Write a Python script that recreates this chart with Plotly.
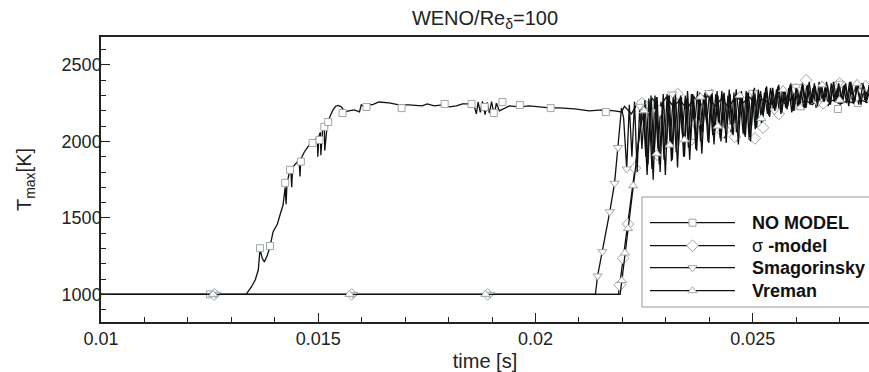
import plotly.graph_objects as go

# ---------------- data ----------------
x_ticks = [0.01, 0.015, 0.02, 0.025]
x_tick_labels = ["0.01", "0.015", "0.02", "0.025"]
y_ticks = [1000, 1500, 2000, 2500]
y_tick_labels = ["1000", "1500", "2000", "2500"]

series_names = ["NO MODEL", "σ -model", "Smagorinsky", "Vreman"]

# NO MODEL line
nm_t = [0.01000, 0.01334, 0.01346, 0.01355, 0.01362, 0.01366, 0.01371, 0.01376, 0.01383, 0.01389,
        0.01396, 0.01406, 0.01412, 0.01419, 0.01424, 0.01426, 0.01428, 0.01433, 0.01437, 0.01439,
        0.01441, 0.01450, 0.01456, 0.01458, 0.01460, 0.01468, 0.01479, 0.01491, 0.01498, 0.01499,
        0.01502, 0.01505, 0.01506, 0.01510, 0.01514, 0.01515, 0.01521, 0.01528, 0.01534, 0.01540,
        0.01546, 0.01553, 0.01562, 0.01570, 0.01583, 0.01595, 0.01599, 0.01606, 0.01617, 0.01624,
        0.01640, 0.01663, 0.01686, 0.01709, 0.01739, 0.01751, 0.01767, 0.01786, 0.01802, 0.01818,
        0.01832, 0.01848, 0.01857, 0.01864, 0.01868, 0.01873, 0.01878, 0.01884, 0.01889, 0.01894,
        0.01899, 0.01905, 0.01910, 0.01917, 0.01929, 0.01940, 0.01963, 0.01986, 0.02009, 0.02032,
        0.02055, 0.02090, 0.02124, 0.02154, 0.02182, 0.02198,
        0.02205, 0.02221, 0.02237, 0.02253, 0.02269, 0.02285, 0.02301, 0.02317, 0.02333, 0.02349,
        0.02365, 0.02381, 0.02397, 0.02413, 0.02429, 0.02445, 0.02461, 0.02477, 0.02493, 0.02509,
        0.02525, 0.02541, 0.02557, 0.02573, 0.02589, 0.02605, 0.02621, 0.02637, 0.02653, 0.02669,
        0.02685, 0.02701, 0.02717, 0.02733, 0.02749, 0.02765]
nm_T = [1000, 1000, 1048, 1094, 1159, 1295, 1238, 1211, 1257, 1312,
        1408, 1460, 1519, 1584, 1700, 1590, 1720, 1790, 1815, 1700,
        1830, 1860, 1880, 1770, 1885, 1931, 1975, 2005, 2030, 1900,
        2040, 2060, 1910, 2075, 2090, 1940, 2120, 2170, 2206, 2230,
        2236, 2226, 2193, 2200, 2206, 2193, 2239, 2226, 2245, 2239,
        2258, 2252, 2239, 2239, 2232, 2245, 2232, 2239, 2226, 2232,
        2245, 2245, 2252, 2180, 2258, 2190, 2262, 2175, 2255, 2185,
        2260, 2170, 2250, 2200, 2219, 2232, 2226, 2232, 2226, 2219,
        2219, 2213, 2200, 2206, 2200, 2193,
        2230, 2180, 2260, 2210, 2280, 2220, 2290, 2230, 2270, 2210,
        2290, 2240, 2300, 2230, 2280, 2220, 2300, 2250, 2290, 2230,
        2280, 2240, 2300, 2250, 2280, 2230, 2270, 2240, 2280, 2250,
        2270, 2245, 2265, 2250, 2270, 2255]

# sampling times of the turbulent part (one list per LES model)
sm_noisy_t = [0.02245, 0.02252, 0.02259, 0.02266, 0.02273, 0.02280, 0.02287, 0.02294, 0.02301, 0.02308,
              0.02315, 0.02322, 0.02329, 0.02336, 0.02343, 0.02350, 0.02357, 0.02364, 0.02371, 0.02378,
              0.02385, 0.02392, 0.02399, 0.02406, 0.02413, 0.02420, 0.02427, 0.02434, 0.02441, 0.02448,
              0.02455, 0.02462, 0.02469, 0.02476, 0.02483, 0.02490, 0.02497, 0.02504, 0.02511, 0.02518,
              0.02525, 0.02532, 0.02539, 0.02546, 0.02553, 0.02560, 0.02567, 0.02574, 0.02581, 0.02588,
              0.02595, 0.02602, 0.02609, 0.02616, 0.02623, 0.02630, 0.02637, 0.02644, 0.02651, 0.02658,
              0.02665, 0.02672, 0.02679, 0.02686, 0.02693, 0.02700, 0.02707, 0.02714, 0.02721, 0.02728,
              0.02735, 0.02742, 0.02749, 0.02756, 0.02763, 0.02770]
sg_noisy_t = [0.02247, 0.02254, 0.02261, 0.02268, 0.02275, 0.02282, 0.02289, 0.02296, 0.02303, 0.02310,
              0.02317, 0.02324, 0.02331, 0.02338, 0.02345, 0.02352, 0.02359, 0.02366, 0.02373, 0.02380,
              0.02387, 0.02394, 0.02401, 0.02408, 0.02415, 0.02422, 0.02429, 0.02436, 0.02443, 0.02450,
              0.02457, 0.02464, 0.02471, 0.02478, 0.02485, 0.02492, 0.02499, 0.02506, 0.02513, 0.02520,
              0.02527, 0.02534, 0.02541, 0.02548, 0.02555, 0.02562, 0.02569, 0.02576, 0.02583, 0.02590,
              0.02597, 0.02604, 0.02611, 0.02618, 0.02625, 0.02632, 0.02639, 0.02646, 0.02653, 0.02660,
              0.02667, 0.02674, 0.02681, 0.02688, 0.02695, 0.02702, 0.02709, 0.02716, 0.02723, 0.02730,
              0.02737, 0.02744, 0.02751, 0.02758, 0.02765, 0.02772]
vr_noisy_t = [0.02250, 0.02257, 0.02264, 0.02271, 0.02278, 0.02285, 0.02292, 0.02299, 0.02306, 0.02313,
              0.02320, 0.02327, 0.02334, 0.02341, 0.02348, 0.02355, 0.02362, 0.02369, 0.02376, 0.02383,
              0.02390, 0.02397, 0.02404, 0.02411, 0.02418, 0.02425, 0.02432, 0.02439, 0.02446, 0.02453,
              0.02460, 0.02467, 0.02474, 0.02481, 0.02488, 0.02495, 0.02502, 0.02509, 0.02516, 0.02523,
              0.02530, 0.02537, 0.02544, 0.02551, 0.02558, 0.02565, 0.02572, 0.02579, 0.02586, 0.02593,
              0.02600, 0.02607, 0.02614, 0.02621, 0.02628, 0.02635, 0.02642, 0.02649, 0.02656, 0.02663,
              0.02670, 0.02677, 0.02684, 0.02691, 0.02698, 0.02705, 0.02712, 0.02719, 0.02726, 0.02733,
              0.02740, 0.02747, 0.02754, 0.02761, 0.02768, 0.02775]

# sigma-model
sg_t_rise = [0.01000, 0.02191, 0.02198, 0.02205, 0.02212, 0.02219, 0.02226, 0.02233, 0.02240]
sg_T_rise = [1000, 1000, 1150, 1300, 1450, 1600, 1760, 1910, 2060]
sg_T_noisy = [2250, 1900, 2280, 1820, 2300, 1950, 2260, 1880, 2310, 1990,
              2290, 1930, 2320, 2050, 2300, 1960, 2310, 2080, 2330, 2000,
              2300, 2120, 2320, 2040, 2310, 2100, 2330, 2020, 2300, 2060,
              2320, 2000, 2290, 2050, 2330, 2010, 2310, 2080, 2340, 2120,
              2320, 2180, 2350, 2200, 2340, 2170, 2360, 2220, 2350, 2190,
              2370, 2230, 2340, 2210, 2380, 2240, 2350, 2220, 2390, 2250,
              2360, 2230, 2380, 2260, 2350, 2240, 2370, 2250, 2390, 2260,
              2360, 2240, 2380, 2270, 2350, 2300]

# Smagorinsky
sm_t_rise = [0.01000, 0.02138, 0.02143, 0.02154, 0.02162, 0.02171, 0.02182, 0.02190, 0.02198,
             0.02203, 0.02210, 0.02216, 0.02222, 0.02228, 0.02234, 0.02240]
sm_T_rise = [1000, 1000, 1120, 1279, 1400, 1540, 1726, 1960, 2219,
             2150, 1820, 2240, 1900, 2260, 1800, 2230]
sm_T_noisy = [1950, 2270, 1850, 2300, 1900, 2290, 1800, 2310, 1950, 2300,
              1880, 2320, 1970, 2290, 1900, 2330, 2010, 2300, 1940, 2320,
              2060, 2310, 1990, 2340, 2070, 2300, 2000, 2320, 2110, 2310,
              2040, 2340, 2150, 2300, 2030, 2320, 2100, 2350, 2140, 2330,
              2190, 2360, 2160, 2350, 2210, 2370, 2190, 2340, 2230, 2380,
              2200, 2360, 2240, 2370, 2220, 2390, 2250, 2360, 2230, 2380,
              2260, 2370, 2240, 2390, 2270, 2360, 2250, 2380, 2230, 2370,
              2260, 2390, 2240, 2360, 2270, 2340]

# Vreman
vr_t_rise = [0.01000, 0.02195, 0.02201, 0.02208, 0.02215, 0.02222, 0.02229, 0.02236, 0.02241]
vr_T_rise = [1000, 1000, 1140, 1300, 1460, 1620, 1780, 1940, 2080]
vr_T_noisy = [2200, 1780, 2260, 1750, 2290, 1850, 2240, 1780, 2300, 1870,
              2270, 1830, 2300, 1900, 2280, 1880, 2310, 1950, 2290, 1920,
              2320, 2000, 2300, 1980, 2330, 2020, 2310, 1990, 2340, 2050,
              2300, 1980, 2330, 2040, 2320, 2000, 2340, 2090, 2310, 2130,
              2350, 2170, 2330, 2200, 2360, 2180, 2350, 2210, 2370, 2200,
              2350, 2230, 2380, 2220, 2360, 2250, 2380, 2230, 2370, 2260,
              2390, 2240, 2360, 2260, 2380, 2250, 2370, 2270, 2390, 2250,
              2360, 2260, 2380, 2250, 2370, 2280]

# symbol (marker) samples
nm_mt = [0.01251, 0.01366, 0.01389, 0.01424, 0.01435, 0.01460, 0.01487, 0.01503, 0.01514, 0.01523,
         0.01556, 0.01611, 0.01692, 0.01791, 0.01853, 0.01883, 0.01904, 0.01924, 0.01964, 0.02035,
         0.02162, 0.02263, 0.02378, 0.02516, 0.02608, 0.02696, 0.02742]
nm_mT = [1000, 1302, 1316, 1729, 1814, 1868, 1990, 2010, 2095, 2127,
         2186, 2225, 2218, 2245, 2245, 2225, 2186, 2258, 2238, 2218,
         2192, 2238, 2271, 2245, 2232, 2212, 2251]
sg_mt = [0.01261, 0.01577, 0.01890, 0.02194, 0.02202, 0.02213, 0.02229, 0.02245, 0.02285, 0.02327,
         0.02370, 0.02431, 0.02459, 0.02505, 0.02524, 0.02560, 0.02600, 0.02623, 0.02662, 0.02700,
         0.02740, 0.02760]
sg_mT = [1000, 1000, 1000, 1060, 1235, 1460, 1825, 2250, 2200, 2310,
         2120, 2060, 2030, 2020, 2090, 2180, 2340, 2400, 2250, 2380,
         2300, 2360]
sm_mt = [0.01265, 0.01581, 0.01895, 0.02143, 0.02154, 0.02171, 0.02182, 0.02190, 0.02210, 0.02240,
         0.02280, 0.02315, 0.02360, 0.02400, 0.02450, 0.02500, 0.02550, 0.02600, 0.02650, 0.02700,
         0.02750]
sm_mT = [1000, 1000, 1000, 1120, 1279, 1540, 1726, 1960, 1820, 2230,
         1900, 2310, 2000, 2320, 2100, 2320, 2200, 2360, 2250, 2380,
         2330]
vr_mt = [0.01258, 0.01572, 0.01885, 0.02199, 0.02206, 0.02213, 0.02225, 0.02250, 0.02279, 0.02309,
         0.02343, 0.02380, 0.02420, 0.02470, 0.02520, 0.02570, 0.02610, 0.02660, 0.02700, 0.02740]
vr_mT = [1000, 1000, 1000, 1090, 1270, 1430, 1710, 2200, 1920, 1976,
         2010, 2290, 2100, 2300, 2150, 2340, 2220, 2370, 2270, 2380]

# ---------------- figure ----------------
FONT = "Liberation Sans, Arial, Helvetica, sans-serif"
LINE = "#111111"
MK_EDGE = "#9ea7aa"
TXT = "#222222"

series = [
    dict(name=series_names[0], label="<b>NO MODEL</b>", t=nm_t, T=nm_T, mt=nm_mt, mT=nm_mT,
         symbol="square", size=7,
         key="M-3.5,-3.5 H3.5 V3.5 H-3.5 Z"),
    dict(name=series_names[1], label="σ <b>-model</b>", t=sg_t_rise + sg_noisy_t, T=sg_T_rise + sg_T_noisy,
         mt=sg_mt, mT=sg_mT, symbol="diamond", size=9,
         key="M5.85,0 L0,5.85 L-5.85,0 L0,-5.85 Z"),
    dict(name=series_names[2], label="<b>Smagorinsky</b>", t=sm_t_rise + sm_noisy_t, T=sm_T_rise + sm_T_noisy,
         mt=sm_mt, mT=sm_mT, symbol="triangle-down", size=8,
         key="M-4.62,2 L4.62,2 L0,-4 Z"),
    dict(name=series_names[3], label="<b>Vreman</b>", t=vr_t_rise + vr_noisy_t, T=vr_T_rise + vr_T_noisy,
         mt=vr_mt, mT=vr_mT, symbol="triangle-up", size=8,
         key="M-4.62,-2 L4.62,-2 L0,4 Z"),
]

fig = go.Figure()
for s in series:
    fig.add_trace(go.Scatter(x=s["t"], y=s["T"], mode="lines", name=s["name"], showlegend=False,
                             line=dict(color=LINE, width=1.3), hoverinfo="skip"))
    fig.add_trace(go.Scatter(x=s["mt"], y=s["mT"], mode="markers", name=s["name"], showlegend=False,
                             marker=dict(symbol=s["symbol"], size=s["size"], color="white",
                                         line=dict(color=MK_EDGE, width=1))))

# ---- hand-built legend (long line keys like the original) ----
leg_x0, leg_y0, leg_x1, leg_y1 = 0.7044, 0.0526, 1.02, 0.4386
key_x0, key_x1, key_xm, txt_x = 0.7148, 0.8255, 0.7702, 0.845
row_y = [0.3484, 0.2677, 0.1905, 0.1098]

shapes = [dict(type="rect", xref="paper", yref="paper", x0=leg_x0, x1=leg_x1, y0=leg_y0, y1=leg_y1,
               line=dict(color="#9a9a9a", width=1), fillcolor="white", layer="below")]
annotations = []
for s, ry in zip(series, row_y):
    shapes.append(dict(type="line", xref="paper", yref="paper", x0=key_x0, x1=key_x1, y0=ry, y1=ry,
                       line=dict(color=LINE, width=1.3)))
    shapes.append(dict(type="path", xref="paper", yref="paper", xsizemode="pixel", ysizemode="pixel",
                       xanchor=key_xm, yanchor=ry, path=s["key"], fillcolor="white",
                       line=dict(color=MK_EDGE, width=1)))
    annotations.append(dict(text=s["label"], xref="paper", yref="paper", x=txt_x, y=ry,
                            xanchor="left", yanchor="middle", showarrow=False,
                            font=dict(family=FONT, size=18, color="#111111")))

axis_common = dict(
    showline=True, linecolor=TXT, linewidth=1.5,
    ticks="inside", ticklen=9, tickwidth=1.2, tickcolor=TXT,
    showgrid=False, zeroline=False,
    tickfont=dict(family=FONT, size=18, color=TXT),
)

fig.update_xaxes(
    range=[0.01, 0.027677], tickmode="array", tickvals=x_ticks, ticktext=x_tick_labels,
    mirror=True,
    minor=dict(tickmode="linear", tick0=0.01, dtick=0.001, ticks="inside", ticklen=5,
               tickwidth=1, tickcolor=TXT),
    title=dict(text="time [s]", font=dict(family=FONT, size=20, color=TXT), standoff=7),
    **axis_common)
fig.update_yaxes(
    range=[819, 2683], tickmode="array", tickvals=y_ticks, ticktext=y_tick_labels,
    mirror=False, ticklabelstandoff=-6,
    minor=dict(tickmode="linear", tick0=1000, dtick=100, ticks="inside", ticklen=5,
               tickwidth=1, tickcolor=TXT),
    title=dict(text="T<sub>max</sub>[K]", font=dict(family=FONT, size=20, color=TXT), standoff=25),
    **axis_common)

fig.update_layout(
    width=869, height=372,
    margin=dict(l=101, r=0, t=37, b=50),
    paper_bgcolor="white", plot_bgcolor="white",
    title=dict(text="WENO/Re<sub>δ</sub>=100", x=0.5, xref="paper", xanchor="center",
               y=1 - 17.5 / 372, yref="container", yanchor="middle",
               font=dict(family=FONT, size=20, color=TXT)),
    shapes=shapes,
    annotations=annotations,
    showlegend=False,
)

fig.write_html("out.html", config={"displayModeBar": False},
               post_script="document.body.style.margin='0px';")
